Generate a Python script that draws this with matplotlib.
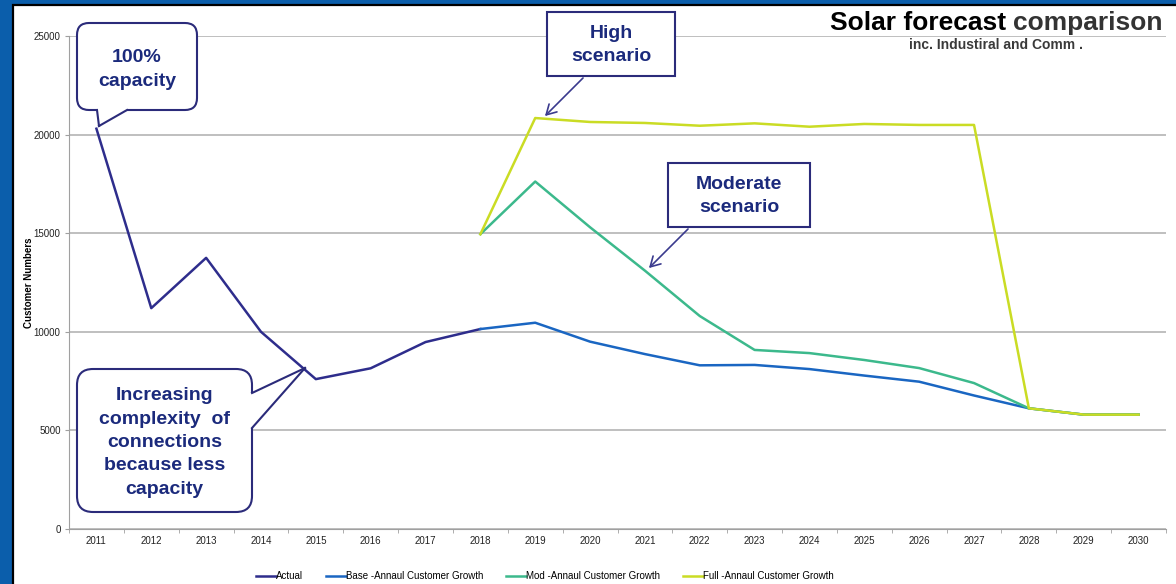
import numpy as np
import matplotlib
matplotlib.use("Agg")
import matplotlib.pyplot as plt
from matplotlib.patches import FancyBboxPatch, Rectangle, Polygon, FancyArrowPatch
from matplotlib.transforms import Affine2D
from matplotlib.lines import Line2D

plt.rcParams['font.family'] = ['Liberation Sans', 'DejaVu Sans']

nan = np.nan
years = [str(y) for y in range(2011, 2031)]
actual = [20300, 11200, 13750, 10000, 7600, 8150, 9480, 10140, nan, nan,
          nan, nan, nan, nan, nan, nan, nan, nan, nan, nan]
base = [nan, nan, nan, nan, nan, nan, nan, 10140, 10460, 9500,
        8870, 8300, 8320, 8110, 7780, 7470, 6770, 6120, 5800, 5800]
mod = [nan, nan, nan, nan, nan, nan, nan, 14950, 17620, 15300,
       13100, 10800, 9080, 8920, 8570, 8160, 7400, 6120, 5800, 5800]
full = [nan, nan, nan, nan, nan, nan, nan, 14950, 20840, 20640,
        20590, 20450, 20570, 20400, 20540, 20490, 20490, 6120, 5800, 5800]
labels = ["Actual", "Base -Annaul Customer Growth",
          "Mod -Annaul Customer Growth", "Full -Annaul Customer Growth"]
colors = ["#2E2D8C", "#1A66C2", "#3CB98C", "#CADC24"]

W, H = 1176, 584
fig = plt.figure(figsize=(W / 100, H / 100), dpi=100)
fig.patch.set_facecolor("#0B5EAB")

# pixel coords (from top-left) -> figure
pix = Affine2D().scale(1, -1).translate(0, H).scale(1 / W, 1 / H) + fig.transFigure

fig.patches.append(Rectangle((13, 5), W + 20, H + 20, transform=pix,
                             facecolor="white", edgecolor="black", lw=1.6, zorder=-5))

ax = fig.add_axes([69 / W, 1 - 529 / H, (1166 - 69) / W, (529 - 36) / H])
ax.set_facecolor("none")
ax.set_zorder(1)
x = np.arange(len(years))
series = [actual, base, mod, full]
for vals, lab, col in zip(series, labels, colors):
    ax.plot(x, vals, color=col, lw=1.8, label=lab, solid_joinstyle="round")

ax.set_xlim(-0.5, len(years) - 0.5)
ax.set_ylim(0, 25000)
ax.set_yticks(np.arange(0, 25001, 5000))
ax.yaxis.grid(True, color="#B4B4B4", lw=1.2)
ax.set_axisbelow(True)
ax.set_xticks(x)
ax.set_xticklabels(years)
ax.set_xticks(np.arange(-0.5, len(years), 1), minor=True)
ax.tick_params(axis="x", which="major", length=0, pad=5, labelsize=7, labelcolor="#222222")
ax.tick_params(axis="x", which="minor", length=3, color="#A0A0A0")
ax.tick_params(axis="y", length=3, color="#A0A0A0", labelsize=7, labelcolor="#222222", pad=3)
for s in ["top", "right"]:
    ax.spines[s].set_visible(False)
for s in ["left", "bottom"]:
    ax.spines[s].set_color("#A0A0A0")
ax.set_ylabel("Customer Numbers", fontsize=7, fontweight="bold", labelpad=0)

fig.legend(loc="center", bbox_to_anchor=(545 / W, 1 - 576 / H), ncol=4, frameon=False,
           fontsize=7, handlelength=2.1, handletextpad=0.0, columnspacing=2.3)

# title
fig.text(1163 / W, 1 - 30 / H, "comparison", ha="right", va="baseline",
         fontsize=19, fontweight="bold", color="#333333", zorder=3)
fig.text(1006 / W, 1 - 30 / H, "Solar forecast", ha="right", va="baseline",
         fontsize=19, fontweight="bold", color="black", zorder=3)
fig.text(996 / W, 1 - 45 / H, "inc. Industiral and Comm .", ha="center", va="center",
         fontsize=10, fontweight="bold", color="#3A3A3A", zorder=3)

navy = "#1B2A7C"
edge = "#2B2B7A"


def callout(x0, y0, x1, y1, r, tail, text, fs, dy=0):
    box = FancyBboxPatch((x0, y0), x1 - x0, y1 - y0, transform=pix,
                         boxstyle=f"round,pad=0,rounding_size={r}",
                         facecolor="white", edgecolor=edge, lw=1.5, zorder=5)
    fig.patches.append(box)
    b1, tip, b2, inward = tail
    cover = Polygon([(b1[0] + inward[0], b1[1] + inward[1]), b1, tip, b2,
                     (b2[0] + inward[0], b2[1] + inward[1])],
                    closed=True, transform=pix, facecolor="white", edgecolor="none", zorder=6)
    fig.patches.append(cover)
    for b in (b1, b2):
        fig.lines.append(Line2D([b[0], tip[0]], [b[1], tip[1]], transform=pix,
                                color=edge, lw=1.5, zorder=7))
    fig.text((x0 + x1) / 2, (y0 + y1) / 2 + dy, text, transform=pix, ha="center", va="center",
             fontsize=fs, fontweight="bold", color=navy, linespacing=1.5, zorder=8)


callout(77, 23, 197, 110, 12, ((97, 110), (99, 126), (127, 110), (0, -3)),
        "100%\ncapacity", 14, dy=3)
callout(77, 369, 252, 512, 16, ((252, 393), (305, 368), (252, 428), (-3, 0)),
        "Increasing\ncomplexity  of\nconnections\nbecause less\ncapacity", 14, dy=2)


def rectbox(x0, y0, x1, y1, text, start, end):
    fig.patches.append(Rectangle((x0, y0), x1 - x0, y1 - y0, transform=pix,
                                 facecolor="white", edgecolor=edge, lw=1.5, zorder=5))
    fig.text((x0 + x1) / 2, (y0 + y1) / 2 + 1, text, transform=pix, ha="center", va="center",
             fontsize=14, fontweight="bold", color=navy, linespacing=1.5, zorder=8)
    fig.patches.append(FancyArrowPatch(start, end, transform=pix,
                                       arrowstyle="->,head_length=7,head_width=4",
                                       color="#3A3A8E", lw=1.2, zorder=6))


rectbox(547, 12, 675, 76, "High\nscenario", (585, 76), (543, 118))
rectbox(668, 163, 810, 227, "Moderate\nscenario", (690, 227), (647, 270))

fig.savefig("out.png", dpi=100, facecolor=fig.get_facecolor())
